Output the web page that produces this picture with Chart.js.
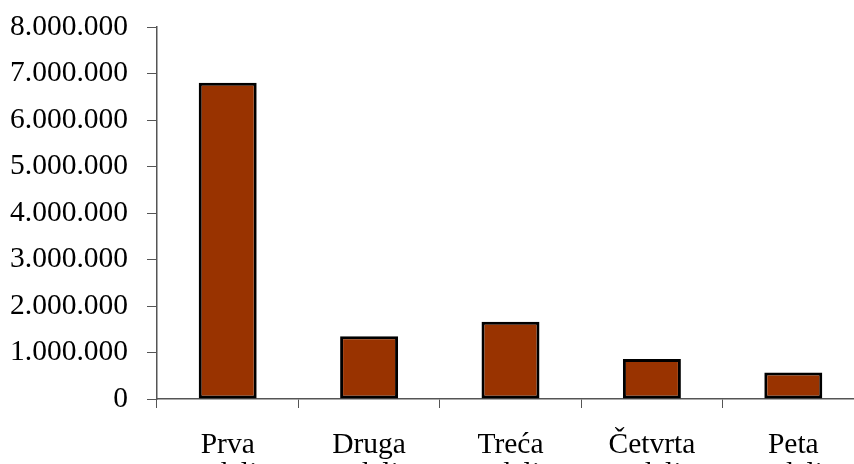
<!DOCTYPE html>
<html>
<head>
<meta charset="utf-8">
<script src="https://cdn.jsdelivr.net/npm/chart.js@4/dist/chart.umd.min.js"></script>
<style>
  html, body { margin: 0; padding: 0; background: #fff; overflow: hidden; }
  #okvir { width: 854px; height: 464px; overflow: hidden; position: relative; }
  #omotac { position: absolute; left: 0; top: 0; width: 880px; height: 520px; }
</style>
</head>
<body>
<div id="okvir">
  <div id="omotac"><canvas id="grafik"></canvas></div>
</div>
<script>
// === Podaci ===
const kategorije = [
  ["Prva", "nedelja"],
  ["Druga", "nedelja"],
  ["Treća", "nedelja"],
  ["Četvrta", "nedelja"],
  ["Peta", "nedelja"]
];
const vrednosti = [6800000, 1350000, 1660000, 860000, 570000];
const yMin = 0;
const yMax = 8000000;
const yKorak = 1000000;

function formatBroja(v) {
  return String(v).replace(/\B(?=(\d{3})+(?!\d))/g, ".");
}

const fontY = { family: "'Liberation Serif', 'Times New Roman', serif", size: 29.5 };
const fontX = { family: "'Liberation Serif', 'Times New Roman', serif", size: 29.5, lineHeight: 0.97 };
const bojaOse = "#555555";

const ctx = document.getElementById("grafik").getContext("2d");
new Chart(ctx, {
  type: "bar",
  data: {
    labels: kategorije,
    datasets: [{
      data: vrednosti,
      backgroundColor: "#993300",
      borderColor: "#000000",
      borderWidth: 3,
      borderSkipped: false,
      categoryPercentage: 1,
      barPercentage: 0.41
    }]
  },
  options: {
    responsive: true,
    maintainAspectRatio: false,
    animation: false,
    layout: { padding: { left: 2, top: 27, right: 16, bottom: 0 } },
    plugins: {
      legend: { display: false },
      tooltip: { enabled: false }
    },
    scales: {
      x: {
        afterFit: (s) => { s.height = 121; },
        grid: {
          display: true,
          drawOnChartArea: false,
          drawTicks: true,
          tickLength: 9,
          color: bojaOse
        },
        border: { color: bojaOse, width: 1.5 },
        ticks: {
          color: "#000",
          padding: 23,
          maxRotation: 0,
          autoSkip: false,
          font: fontX
        }
      },
      y: {
        min: yMin,
        max: yMax,
        afterFit: (s) => {
          s.width = 155;
          // bez dodatnog razmaka iznad i ispod ose
          s.paddingTop = 0;
          s.paddingBottom = 0;
        },
        grid: {
          display: true,
          drawOnChartArea: false,
          drawTicks: true,
          tickLength: 10,
          color: bojaOse
        },
        border: { color: bojaOse, width: 1.5 },
        ticks: {
          stepSize: yKorak,
          color: "#000",
          padding: 19,
          font: fontY,
          callback: (v) => formatBroja(v)
        }
      }
    }
  }
});
</script>
</body>
</html>
